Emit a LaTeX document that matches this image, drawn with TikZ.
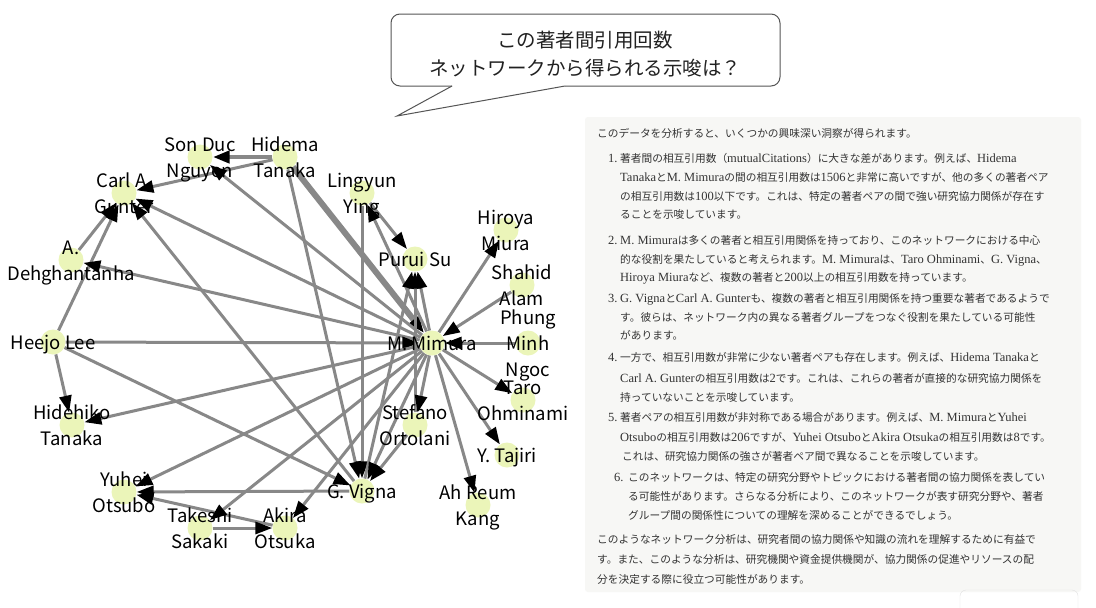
\documentclass[tikz,border=0pt]{standalone}
\usepackage{fontspec}
\setmainfont{Noto Sans CJK JP}
\newfontfamily\serifl{Liberation Serif}
\usetikzlibrary{arrows.meta}
\pgfdeclarelayer{bglayer}
\pgfdeclarelayer{edgelayer}
\pgfsetlayers{bglayer,edgelayer,main}
\definecolor{edgec}{HTML}{888888}
\definecolor{nodec}{HTML}{EBF5B9}
\definecolor{panelbg}{HTML}{F7F7F5}
\definecolor{paneltext}{HTML}{333333}
\definecolor{bubbled}{HTML}{555555}
\newcommand{\lt}[1]{{\serifl\fontsize{12.5}{12.5}\selectfont #1}}
\begin{document}
\begin{tikzpicture}[x=1pt,y=-1pt,
  vtx/.style={circle,fill=nodec,minimum size=25pt,inner sep=0pt},
  lbl/.style={align=center,font=\fontsize{18.5}{26}\selectfont,text=black,inner sep=0pt,yshift=-2pt},
  edge/.style={draw=edgec,line width=3pt,-{Triangle[length=17pt,width=12pt,color=black]}},
  txt/.style={anchor=base west,inner sep=0pt,font=\fontsize{10.7}{12}\selectfont,text=paneltext},
]
\useasboundingbox (0,0) rectangle (1096,608);
\begin{pgfonlayer}{bglayer}
\fill[white] (0,0) rectangle (1096,608);
\end{pgfonlayer}

% speech bubble
\fill[white,rounded corners=9pt] (391,14) rectangle (780,86);
\filldraw[fill=white,draw=bubbled,line width=1pt] (452,86) -- (397,116) -- (565,86);
\draw[bubbled,line width=1pt,rounded corners=9pt] (452,86) -- (391,86) -- (391,14) -- (780,14) -- (780,86) -- (565,86);
\node[font=\fontsize{19.5}{28}\selectfont,text=black!87,align=center,inner sep=0pt] (q) at (585,54) {この著者間引用回数\\ネットワークから得られる示唆は？};

% panel
\fill[panelbg,rounded corners=3pt] (585,117) rectangle (1081,592);
\draw[black!12,rounded corners=6pt] (960,590) rectangle (1078,625);

\node[txt] (t0) at (597,137) {このデータを分析すると、いくつかの興味深い洞察が得られます。};
\node[txt] (n1) at (608,162) {\lt{1.}};
\node[txt] (t11) at (620,162) {著者間の相互引用数（\lt{mutualCitations}）に大きな差があります。例えば、\lt{Hidema}};
\node[txt] (t12) at (620,181) {\lt{Tanaka}と\lt{M. Mimura}の間の相互引用数は\lt{1506}と非常に高いですが、他の多くの著者ペア};
\node[txt] (t13) at (620,200) {の相互引用数は\lt{100}以下です。これは、特定の著者ペアの間で強い研究協力関係が存在す};
\node[txt] (t14) at (620,218) {ることを示唆しています。};
\node[txt] (n2) at (608,244) {\lt{2.}};
\node[txt] (t21) at (620,244) {\lt{M. Mimura}は多くの著者と相互引用関係を持っており、このネットワークにおける中心};
\node[txt] (t22) at (620,263) {的な役割を果たしていると考えられます。\lt{M. Mimura}は、\lt{Taro Ohminami}、\lt{G. Vigna}、};
\node[txt] (t23) at (620,281) {\lt{Hiroya Miura}など、複数の著者と\lt{200}以上の相互引用数を持っています。};
\node[txt] (n3) at (608,302) {\lt{3.}};
\node[txt] (t31) at (620,302) {\lt{G. Vigna}と\lt{Carl A. Gunter}も、複数の著者と相互引用関係を持つ重要な著者であるようで};
\node[txt] (t32) at (620,321) {す。彼らは、ネットワーク内の異なる著者グループをつなぐ役割を果たしている可能性};
\node[txt] (t33) at (620,339) {があります。};
\node[txt] (n4) at (608,361) {\lt{4.}};
\node[txt] (t41) at (620,361) {一方で、相互引用数が非常に少ない著者ペアも存在します。例えば、\lt{Hidema Tanaka}と};
\node[txt] (t42) at (620,382) {\lt{Carl A. Gunter}の相互引用数は\lt{2}です。これは、これらの著者が直接的な研究協力関係を};
\node[txt] (t43) at (620,401) {持っていないことを示唆しています。};
\node[txt] (n5) at (608,421) {\lt{5.}};
\node[txt] (t51) at (620,421) {著者ペアの相互引用数が非対称である場合があります。例えば、\lt{M. Mimura}と\lt{Yuhei}};
\node[txt] (t52) at (620,441) {\lt{Otsubo}の相互引用数は\lt{206}ですが、\lt{Yuhei Otsubo}と\lt{Akira Otsuka}の相互引用数は\lt{8}です。};
\node[txt] (t53) at (622,460) {これは、研究協力関係の強さが著者ペア間で異なることを示唆しています。};
\node[txt] (n6) at (614,481) {\lt{6.}};
\node[txt] (t61) at (628,481) {このネットワークは、特定の研究分野やトピックにおける著者間の協力関係を表してい};
\node[txt] (t62) at (628,500) {る可能性があります。さらなる分析により、このネットワークが表す研究分野や、著者};
\node[txt] (t63) at (628,519) {グループ間の関係性についての理解を深めることができるでしょう。};
\node[txt] (f1) at (597,543) {このようなネットワーク分析は、研究者間の協力関係や知識の流れを理解するために有益で};
\node[txt] (f2) at (597,563) {す。また、このような分析は、研究機関や資金提供機関が、協力関係の促進やリソースの配};
\node[txt] (f3) at (597,583) {分を決定する際に役立つ可能性があります。};

% vertices
\node[vtx] (hidema) at (285,157) {};
\node[vtx] (sonduc) at (200,157) {};
\node[vtx] (carl) at (124,193) {};
\node[vtx] (dehg) at (71,260) {};
\node[vtx] (heejo) at (53,342) {};
\node[vtx] (hidehiko) at (72,425) {};
\node[vtx] (yuhei) at (124,492) {};
\node[vtx] (takeshi) at (200,528) {};
\node[vtx] (akira) at (285,528) {};
\node[vtx] (vigna) at (362,491) {};
\node[vtx] (ahreum) at (478,505) {};
\node[vtx] (tajiri) at (507,455) {};
\node[vtx] (taro) at (523,400) {};
\node[vtx] (phung) at (528,343) {};
\node[vtx] (shahid) at (522,285) {};
\node[vtx] (hiroya) at (506,230) {};
\node[vtx] (purui) at (415,259) {};
\node[vtx] (lingyun) at (362,193) {};
\node[vtx] (mimura) at (432,343) {};
\node[vtx] (stefano) at (415,425) {};

\begin{pgfonlayer}{edgelayer}
\draw[edge,line width=4.5pt] (hidema) -- (sonduc);
\draw[edge] (hidema) -- (carl);
\draw[edge,line width=6pt] (hidema) -- (mimura);
\draw[edge] (hidema) -- (vigna);
\draw[edge] (mimura) -- (sonduc);
\draw[edge] (mimura) -- (carl);
\draw[edge] (vigna) -- (carl);
\draw[edge] (dehg) -- (carl);
\draw[edge] (heejo) -- (carl);
\draw[edge] (mimura) -- (dehg);
\draw[edge] (heejo) -- (mimura);
\draw[edge] (heejo) -- (hidehiko);
\draw[edge] (heejo) -- (vigna);
\draw[edge] (mimura) -- (hidehiko);
\draw[edge] (mimura) -- (yuhei);
\draw[edge] (vigna) -- (yuhei);
\draw[edge] (akira) -- (yuhei);
\draw[edge] (takeshi) -- (akira);
\draw[edge] (mimura) -- (takeshi);
\draw[edge] (mimura) -- (akira);
\draw[edge] (lingyun) -- (vigna);
\draw[edge] (mimura) -- (lingyun);
\draw[edge] (lingyun) -- (purui);
\draw[edge] (mimura) -- (purui);
\draw[edge] (vigna) -- (purui);
\draw[edge] (stefano) -- (purui);
\draw[edge] (mimura) -- (vigna);
\draw[edge] (mimura) -- (stefano);
\draw[edge] (mimura) -- (hiroya);
\draw[edge] (shahid) -- (mimura);
\draw[edge] (phung) -- (mimura);
\draw[edge] (mimura) -- (taro);
\draw[edge] (mimura) -- (tajiri);
\draw[edge] (mimura) -- (ahreum);
\draw[edge] (stefano) -- (vigna);
\end{pgfonlayer}

% labels
\node[lbl] (l-hidema) at (hidema) {\strut Hidema\\\strut Tanaka};
\node[lbl] (l-sonduc) at (sonduc) {\strut Son Duc\\\strut Nguyen};
\node[lbl] (l-carl) at (carl) {\strut Carl A.\\\strut Gunter};
\node[lbl] (l-dehg) at (dehg) {\strut A.\\\strut Dehghantanha};
\node[lbl] (l-heejo) at (heejo) {\strut Heejo Lee};
\node[lbl] (l-hidehiko) at (hidehiko) {\strut Hidehiko\\\strut Tanaka};
\node[lbl] (l-yuhei) at (yuhei) {\strut Yuhei\\\strut Otsubo};
\node[lbl] (l-takeshi) at (takeshi) {\strut Takeshi\\\strut Sakaki};
\node[lbl] (l-akira) at (akira) {\strut Akira\\\strut Otsuka};
\node[lbl] (l-vigna) at (vigna) {\strut G. Vigna};
\node[lbl] (l-ahreum) at (ahreum) {\strut Ah Reum\\\strut Kang};
\node[lbl] (l-tajiri) at (tajiri) {\strut Y. Tajiri};
\node[lbl] (l-taro) at (taro) {\strut Taro\\\strut Ohminami};
\node[lbl] (l-phung) at (phung) {\strut Phung\\\strut Minh\\\strut Ngoc};
\node[lbl] (l-shahid) at (shahid) {\strut Shahid\\\strut Alam};
\node[lbl] (l-hiroya) at (hiroya) {\strut Hiroya\\\strut Miura};
\node[lbl] (l-purui) at (purui) {\strut Purui Su};
\node[lbl] (l-lingyun) at (lingyun) {\strut Lingyun\\\strut Ying};
\node[lbl] (l-mimura) at (mimura) {\strut M. Mimura};
\node[lbl] (l-stefano) at (stefano) {\strut Stefano\\\strut Ortolani};
\end{tikzpicture}
\end{document}
